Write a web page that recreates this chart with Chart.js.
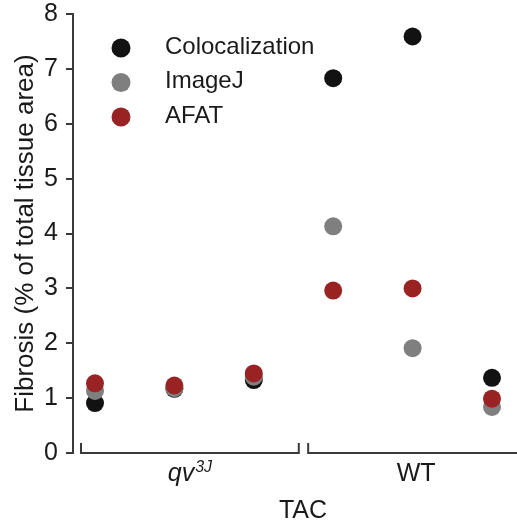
<!DOCTYPE html>
<html>
<head>
<meta charset="utf-8">
<script src="https://cdn.jsdelivr.net/npm/chart.js@4.4.0/dist/chart.umd.min.js"></script>
<style>
html, body { margin: 0; padding: 0; background: #fff; }
</style>
</head>
<body>
<canvas id="fib" width="517" height="524"></canvas>
<script>
// data (6 mice, 3 per group)
const positions = [0, 1, 2, 3, 4, 5];
const colocalization = [0.91, 1.17, 1.33, 6.83, 7.59, 1.37];
const imagej = [1.13, 1.18, 1.39, 4.13, 1.91, 0.84];
const afat = [1.27, 1.23, 1.45, 2.96, 3.00, 0.99];
const yTicks = [0, 1, 2, 3, 4, 5, 6, 7, 8];
const groupNames = ['qv', 'WT'];
const groupSup = ['3J', ''];
const groupFirst = [0, 3];
const groupLast = [2, 5];
const xTitle = 'TAC';

const FONT = "'Liberation Sans', Arial, Helvetica, sans-serif";
const INK = '#1a1a1a';

function pts(vals) {
  return positions.map((p, i) => ({x: p, y: vals[i]}));
}

const extras = {
  id: 'extras',
  afterDraw(chart) {
    const {ctx, scales: {x, y}} = chart;
    const y0 = y.getPixelForValue(0);
    ctx.save();

    // group brackets (the last one runs off the right edge in the figure)
    ctx.strokeStyle = '#3a3a3a';
    ctx.lineWidth = 2;
    const padL = [14, 25], padR = [45, 32];
    const centers = [];
    for (let g = 0; g < groupNames.length; g++) {
      const a = x.getPixelForValue(groupFirst[g]) - padL[g];
      const b = x.getPixelForValue(groupLast[g]) + padR[g];
      const last = g === groupNames.length - 1;
      ctx.beginPath();
      ctx.moveTo(a, y0 - 10);
      ctx.lineTo(a, y0);
      ctx.lineTo(last ? chart.width + 5 : b, y0);
      if (!last) ctx.lineTo(b, y0 - 10);
      ctx.stroke();
      centers.push((a + b) / 2);
    }

    // group labels
    ctx.fillStyle = INK;
    ctx.textBaseline = 'alphabetic';
    ctx.textAlign = 'left';
    for (let g = 0; g < groupNames.length; g++) {
      const italic = groupSup[g] !== '';
      ctx.font = (italic ? 'italic ' : '') + '25px ' + FONT;
      const w1 = ctx.measureText(groupNames[g]).width;
      ctx.font = 'italic 16px ' + FONT;
      const w2 = groupSup[g] ? ctx.measureText(groupSup[g]).width + 1 : 0;
      const sx = centers[g] - (w1 + w2) / 2;
      ctx.font = (italic ? 'italic ' : '') + '25px ' + FONT;
      ctx.fillText(groupNames[g], sx, 481);
      if (groupSup[g]) {
        ctx.font = 'italic 16px ' + FONT;
        ctx.fillText(groupSup[g], sx + w1 + 1, 472);
      }
    }

    // axis title under the brackets
    ctx.font = '25px ' + FONT;
    ctx.textAlign = 'center';
    ctx.fillText(xTitle, (centers[0] + centers[1]) / 2, 518);

    // legend
    const sets = chart.data.datasets;
    ctx.textAlign = 'left';
    ctx.textBaseline = 'middle';
    ctx.font = '24px ' + FONT;
    sets.forEach((ds, i) => {
      const cy = 48 + i * 34.5;
      ctx.fillStyle = ds.backgroundColor;
      ctx.beginPath();
      ctx.arc(121, cy, 9.5, 0, Math.PI * 2);
      ctx.fill();
      ctx.fillStyle = INK;
      ctx.fillText(ds.label, 165, cy - 1);
    });
    ctx.restore();
  }
};

new Chart(document.getElementById('fib'), {
  type: 'scatter',
  data: {
    datasets: [
      {label: 'Colocalization', data: pts(colocalization), backgroundColor: '#121212', order: 3},
      {label: 'ImageJ', data: pts(imagej), backgroundColor: '#7f7f7f', order: 2},
      {label: 'AFAT', data: pts(afat), backgroundColor: '#992323', order: 1}
    ]
  },
  options: {
    responsive: false,
    animation: false,
    devicePixelRatio: 1,
    layout: {autoPadding: false, padding: {top: 14, right: 0, bottom: 71, left: 0}},
    elements: {point: {radius: 9, hoverRadius: 9, borderWidth: 0}},
    scales: {
      x: {type: 'linear', min: -0.277, max: 5.315, display: false},
      y: {
        min: 0,
        max: 8,
        afterBuildTicks: s => { s.ticks = yTicks.map(v => ({value: v})); },
        afterFit: s => { s.width = 73; s.paddingTop = 0; s.paddingBottom = 0; },
        ticks: {font: {size: 25, family: FONT}, color: INK, padding: 8},
        grid: {drawOnChartArea: false, tickLength: 7, color: '#3a3a3a', lineWidth: 2},
        border: {color: '#3a3a3a', width: 2},
        title: {
          display: true,
          text: 'Fibrosis (% of total tissue area)',
          font: {size: 26, family: FONT},
          color: INK,
          padding: {top: 10, bottom: 0}
        }
      }
    },
    plugins: {
      legend: {display: false},
      tooltip: {enabled: false}
    }
  },
  plugins: [extras]
});
</script>
</body>
</html>
